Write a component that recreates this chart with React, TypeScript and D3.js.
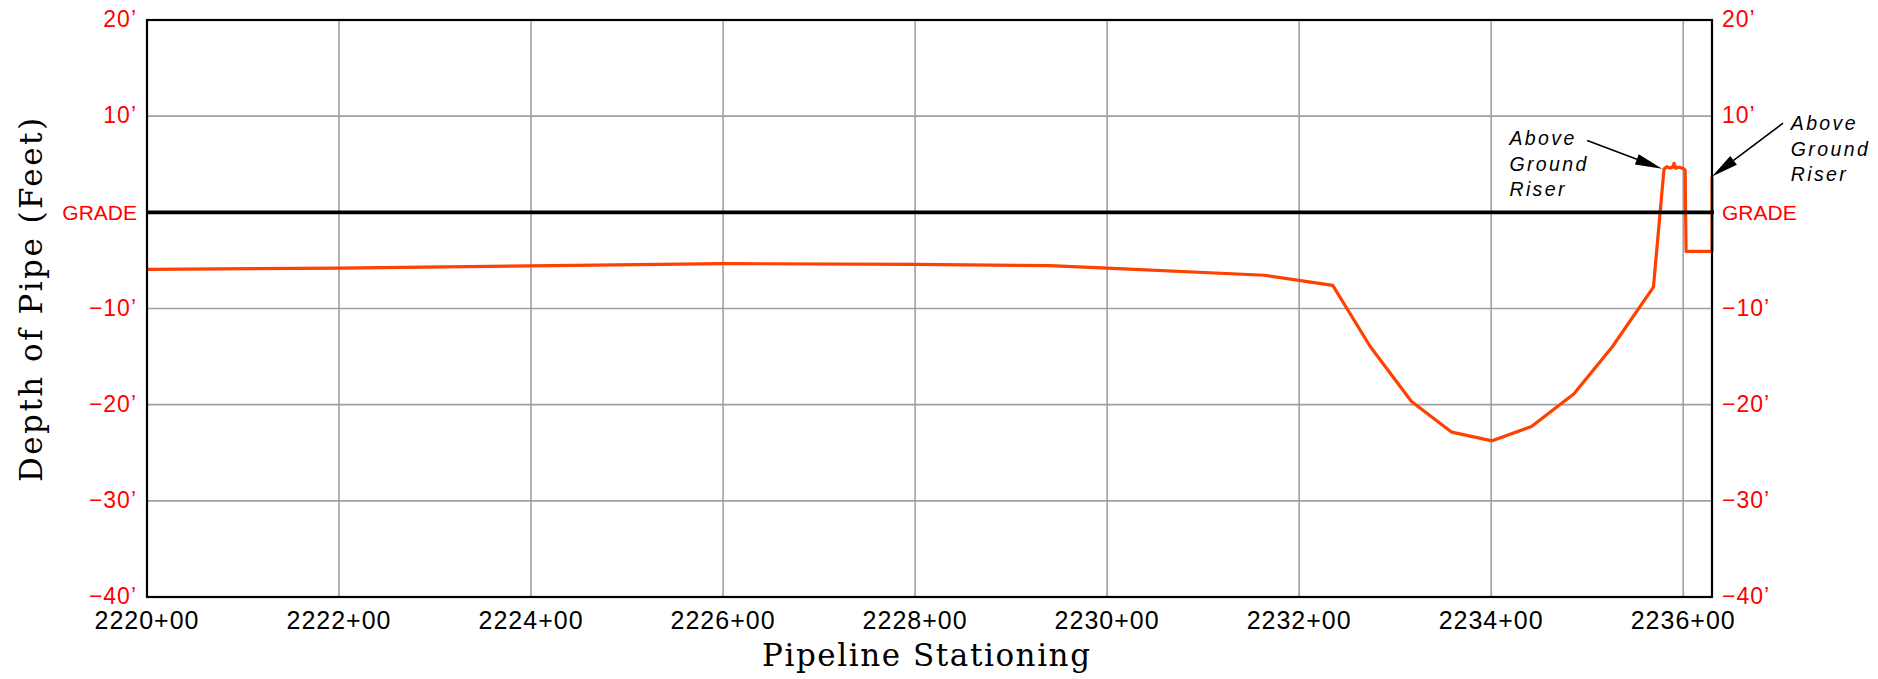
import React from "react";
import * as d3 from "d3";

const stations = [2220, 2222, 2224, 2226, 2228, 2229.4, 2230, 2231.64, 2232.35, 2232.74, 2233.17, 2233.59, 2234.01, 2234.42, 2234.86, 2235.26, 2235.69, 2235.8, 2235.83, 2235.86, 2235.89, 2235.905, 2235.92, 2235.96, 2236.0, 2236.02, 2236.03, 2236.3, 2236.3];
const depths = [-5.93, -5.8, -5.57, -5.33, -5.42, -5.55, -5.8, -6.54, -7.6, -13.95, -19.67, -22.86, -23.76, -22.27, -18.9, -14.0, -7.78, 4.5, 4.75, 4.6, 4.7, 5.1, 4.6, 4.7, 4.55, 4.4, -4.07, -4.07, 3.72];

const xTicks = [2220, 2222, 2224, 2226, 2228, 2230, 2232, 2234, 2236];
const yTicks = [20, 10, 0, -10, -20, -30, -40];
const yTickLabels = ["20’", "10’", "GRADE", "−10’", "−20’", "−30’", "−40’"];

const annotationLines = ["Above", "Ground", "Riser"];
// annotation anchors in data units: [textStation, firstBaselineFt, tailStation, tailFt, tipStation, tipFt]
const annLeft = [2234.19, 7.02, 2235.0, 7.47, 2235.78, 4.52];
const annRight = [2237.12, 8.58, 2237.04, 9.28, 2236.3, 3.72];

const W = 1878;
const H = 679;

const tickFont = "'Liberation Sans', Arial, sans-serif";
const titleFont = "'DejaVu Serif', 'Liberation Serif', serif";

export default function App() {
  const x = d3.scaleLinear().domain([2220, 2236.3]).range([147, 1712]);
  const y = d3.scaleLinear().domain([-40, 20]).range([597, 20]);
  const line = d3
    .line<number>()
    .x((_, i) => x(stations[i]))
    .y((d) => y(d));
  const path = line(depths) || "";
  const lineSpacing = 25.8;

  const arrow = (a: number[], key: string) => {
    const x1 = x(a[2]);
    const y1 = y(a[3]);
    const x2 = x(a[4]);
    const y2 = y(a[5]);
    const ang = Math.atan2(y2 - y1, x2 - x1);
    const L = 27;
    const hw = 5.5;
    const bx = x2 - L * Math.cos(ang);
    const by = y2 - L * Math.sin(ang);
    const px = -Math.sin(ang) * hw;
    const py = Math.cos(ang) * hw;
    return (
      <g key={key}>
        <line x1={x1} y1={y1} x2={bx} y2={by} stroke="#000" strokeWidth={1.6} />
        <polygon points={`${x2},${y2} ${bx + px},${by + py} ${bx - px},${by - py}`} fill="#000" />
      </g>
    );
  };

  const annText = (a: number[], key: string) => (
    <g key={key}>
      {annotationLines.map((t, i) => (
        <text
          key={t}
          x={x(a[0])}
          y={y(a[1]) + i * lineSpacing}
          fontFamily={tickFont}
          fontStyle="italic"
          fontSize={19.5}
          letterSpacing={2.4}
          fill="#000"
        >
          {t}
        </text>
      ))}
    </g>
  );

  return (
    <svg width={W} height={H} style={{ position: "absolute", left: 0, top: 0, background: "#fff" }}>
      <rect x={0} y={0} width={W} height={H} fill="#fff" />
      {/* grid */}
      {xTicks.slice(1).map((t) => (
        <line key={"gx" + t} x1={x(t)} x2={x(t)} y1={y(20)} y2={y(-40)} stroke="#a0a0a0" strokeWidth={1.6} />
      ))}
      {yTicks
        .filter((t) => t !== 0 && t !== 20 && t !== -40)
        .map((t) => (
          <line key={"gy" + t} x1={x(2220)} x2={x(2236.3)} y1={y(t)} y2={y(t)} stroke="#a0a0a0" strokeWidth={1.6} />
        ))}
      {/* pipe */}
      <path d={path} fill="none" stroke="#ff4000" strokeWidth={3.2} strokeLinejoin="round" />
      {/* grade */}
      <line x1={x(2220)} x2={x(2236.3) + 2} y1={y(0)} y2={y(0)} stroke="#000" strokeWidth={3.6} />
      {/* frame */}
      <rect x={x(2220)} y={y(20)} width={x(2236.3) - x(2220)} height={y(-40) - y(20)} fill="none" stroke="#000" strokeWidth={2.2} />
      {/* y tick labels */}
      {yTicks.map((t, i) => {
        const isGrade = t === 0;
        const common = {
          y: y(t) + (isGrade ? 2 : 1),
          dominantBaseline: "middle" as const,
          fontFamily: tickFont,
          fontSize: isGrade ? 21 : 23,
          letterSpacing: isGrade ? 0 : 1,
          fill: "#ff0000",
        };
        return (
          <g key={"yl" + t}>
            <text {...common} x={x(2220) - 10} textAnchor="end">
              {yTickLabels[i]}
            </text>
            <text {...common} x={x(2236.3) + 10} textAnchor="start">
              {yTickLabels[i]}
            </text>
          </g>
        );
      })}
      {/* x tick labels */}
      {xTicks.map((t) => (
        <text
          key={"xl" + t}
          x={x(t)}
          y={629}
          textAnchor="middle"
          fontFamily={tickFont}
          fontSize={25}
          letterSpacing={1}
          fill="#000"
        >
          {`${t}+00`}
        </text>
      ))}
      {/* axis titles */}
      <text
        x={926}
        y={666}
        textAnchor="middle"
        fontFamily={titleFont}
        fontSize={31}
        textLength={328}
        lengthAdjust="spacing"
        fill="#000"
      >
        Pipeline  Stationing
      </text>
      <text
        transform="translate(41.7,300) rotate(-90)"
        textAnchor="middle"
        fontFamily={titleFont}
        fontSize={31}
        textLength={364}
        lengthAdjust="spacing"
        fill="#000"
      >
        Depth of Pipe (Feet)
      </text>
      {/* annotations */}
      {annText(annLeft, "al")}
      {annText(annRight, "ar")}
      {arrow(annLeft, "arl")}
      {arrow(annRight, "arr")}
    </svg>
  );
}
